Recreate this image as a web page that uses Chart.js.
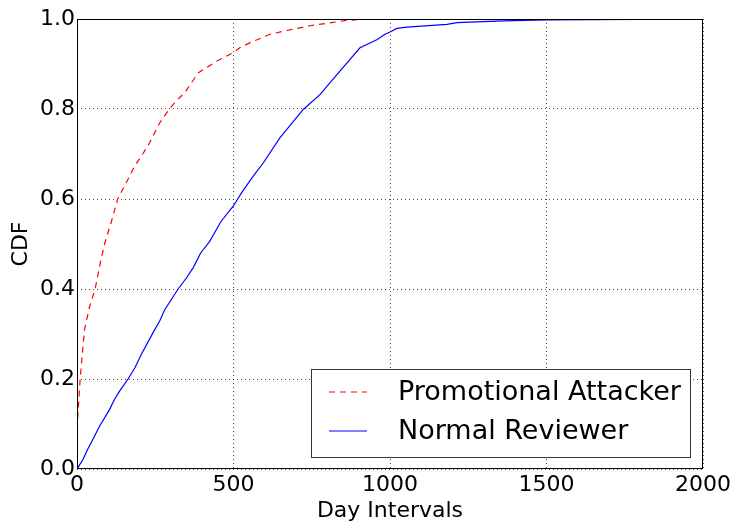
<!DOCTYPE html>
<html>
<head>
<meta charset="utf-8">
<script src="https://cdn.jsdelivr.net/npm/chart.js@4/dist/chart.umd.min.js"></script>
<style>
  body { margin: 0; background: #fff; }
  #wrap { width: 735px; height: 529px; }
</style>
</head>
<body>
<div id="wrap"><canvas id="grafico"></canvas></div>
<script>
// valores
const attackerDays = [0, 10, 24, 40, 58, 72, 88, 110, 130, 160, 184, 210, 232, 264, 296, 320, 344, 387, 445, 499, 520, 552, 616, 674, 744, 862, 936, 1000];
const attackerCdf = [0.088, 0.2, 0.31, 0.36, 0.40, 0.45, 0.50, 0.55, 0.60, 0.64, 0.673, 0.70, 0.725, 0.769, 0.801, 0.82, 0.836, 0.88, 0.906, 0.925, 0.936, 0.947, 0.966, 0.975, 0.985, 0.997, 1.0, 1.0];

const reviewerDays = [0, 19, 35, 51, 72, 104, 120, 136, 163, 185, 205, 243, 265, 280, 300, 323, 350, 371, 395, 424, 460, 499, 526, 563, 595, 648, 723, 776, 840, 904, 958, 984, 1000, 1022, 1054, 1182, 1214, 1362, 1500, 1790, 2000];
const reviewerCdf = [0, 0.021, 0.045, 0.066, 0.095, 0.132, 0.155, 0.173, 0.2, 0.225, 0.254, 0.303, 0.33, 0.354, 0.375, 0.40, 0.425, 0.447, 0.48, 0.506, 0.55, 0.584, 0.614, 0.651, 0.68, 0.736, 0.799, 0.832, 0.884, 0.936, 0.954, 0.966, 0.971, 0.979, 0.982, 0.988, 0.992, 0.996, 0.998, 0.999, 1.0];

const xTicks = [0, 500, 1000, 1500, 2000];
const yTicks = [0, 0.2, 0.4, 0.6, 0.8, 1.0];

const fuente = 'DejaVu Sans';

function puntos(xs, ys) {
    return xs.map((x, i) => ({ x: x, y: ys[i] }));
}

// marco negro y leyenda dentro del área del gráfico
const marcoYLeyenda = {
    id: 'marcoYLeyenda',
    afterDraw(chart) {
        const ctx = chart.ctx;
        const a = chart.chartArea;
        ctx.save();
        ctx.strokeStyle = '#000';
        ctx.lineWidth = 1;
        ctx.setLineDash([]);
        ctx.strokeRect(a.left + 0.5, a.top + 0.5, a.right - a.left - 1, a.bottom - a.top - 1);

        // caja de la leyenda
        const bx = a.right - 392, by = a.bottom - 100, bw = 379, bh = 88;
        ctx.fillStyle = '#fff';
        ctx.fillRect(bx, by, bw, bh);
        ctx.strokeStyle = '#333';
        ctx.strokeRect(bx + 0.5, by + 0.5, bw, bh);

        ctx.font = '27px "' + fuente + '"';
        ctx.textBaseline = 'middle';
        ctx.fillStyle = '#000';
        chart.data.datasets.forEach((ds, i) => {
            const y = by + 23 + i * 39;
            ctx.strokeStyle = ds.borderColor;
            ctx.lineWidth = 1.2;
            ctx.setLineDash(ds.borderDash || []);
            ctx.beginPath();
            ctx.moveTo(bx + 18, y);
            ctx.lineTo(bx + 56, y);
            ctx.stroke();
            ctx.setLineDash([]);
            ctx.fillText(ds.label, bx + 87, y + 1);
        });
        ctx.restore();
    }
};

const ctx = document.getElementById('grafico').getContext('2d');
new Chart(ctx, {
    type: 'line',
    data: {
        datasets: [{
            label: 'Promotional Attacker',
            data: puntos(attackerDays, attackerCdf),
            borderColor: '#ff0000',
            borderWidth: 1.2,
            borderDash: [6, 5],
            pointRadius: 0,
            fill: false,
            tension: 0
        }, {
            label: 'Normal Reviewer',
            data: puntos(reviewerDays, reviewerCdf),
            borderColor: '#0000ff',
            borderWidth: 1.2,
            pointRadius: 0,
            fill: false,
            tension: 0
        }]
    },
    options: {
        responsive: true,
        maintainAspectRatio: false,
        animation: false,
        layout: { padding: { top: 19, right: 32, left: 0, bottom: 0 } },
        plugins: {
            legend: { display: false },
            tooltip: { enabled: false }
        },
        scales: {
            x: {
                type: 'linear',
                min: 0,
                max: 2000,
                afterBuildTicks: s => { s.ticks = xTicks.map(v => ({ value: v })); },
                afterFit: s => { s.height = 60; },
                ticks: {
                    color: '#000',
                    font: { family: fuente, size: 22 },
                    padding: 3,
                    maxRotation: 0,
                    callback: v => String(v)
                },
                grid: { color: 'rgba(0,0,0,0.7)', lineWidth: 1, drawTicks: false },
                border: { display: false, dash: [1, 3] },
                title: {
                    display: true,
                    text: 'Day Intervals',
                    color: '#000',
                    font: { family: fuente, size: 22 },
                    padding: { top: 0, bottom: 5 }
                }
            },
            y: {
                min: 0,
                max: 1,
                afterBuildTicks: s => { s.ticks = yTicks.map(v => ({ value: v })); },
                afterFit: s => { s.width = 77; },
                ticks: {
                    color: '#000',
                    font: { family: fuente, size: 22 },
                    padding: 2,
                    callback: v => v.toFixed(1)
                },
                grid: { color: 'rgba(0,0,0,0.7)', lineWidth: 1, drawTicks: false },
                border: { display: false, dash: [1, 3] },
                title: {
                    display: true,
                    text: 'CDF',
                    color: '#000',
                    font: { family: fuente, size: 22 },
                    padding: { top: 8, bottom: 0 }
                }
            }
        }
    },
    plugins: [marcoYLeyenda]
});
</script>
</body>
</html>
